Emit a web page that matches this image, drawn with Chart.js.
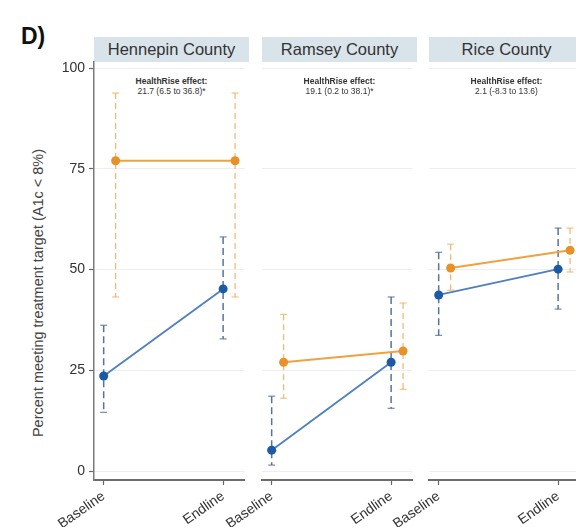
<!DOCTYPE html>
<html>
<head>
<meta charset="utf-8">
<script src="https://cdn.jsdelivr.net/npm/chart.js@4.4.1/dist/chart.umd.min.js"></script>
<style>
  html, body { margin: 0; padding: 0; background: #fff; }
  body { width: 576px; height: 527px; overflow: hidden; position: relative;
         font-family: "Liberation Sans", Arial, sans-serif; color: #333; }
  canvas { position: absolute; }
  .strip { position: absolute; top: 37px; height: 25px; background: #d9e3ea;
           font-size: 16.5px; line-height: 25px; text-align: center; color: #333; white-space: nowrap; }
  .effect { position: absolute; top: 76px; width: 155px; text-align: center;
            font-size: 8.5px; line-height: 10px; color: #333; white-space: nowrap; }
  .effect b { font-weight: bold; }
  #panelTag { position: absolute; left: 21px; top: 23px; font-size: 23px; font-weight: bold; color: #111; }
  #yTitle { position: absolute; left: 38px; top: 293px; transform: translate(-50%, -50%) rotate(-90deg);
            font-size: 14.5px; color: #444; white-space: nowrap; }
</style>
</head>
<body>
<div id="panelTag">D)</div>
<div id="yTitle">Percent meeting treatment target (A1c &lt; 8%)</div>
<script>
// Time points and county panels
const groups = ['Baseline', 'Endline'];
const counties = ['Hennepin County', 'Ramsey County', 'Rice County'];
const effectText = ['21.7 (6.5 to 36.8)*', '19.1 (0.2 to 38.1)*', '2.1 (-8.3 to 13.6)'];
const yTicks = [0, 25, 50, 75, 100];

// HealthRise sites (blue): mean and 95% CI per county, [baseline, endline]
const interventionMean = [[23.6, 45.2], [5.2, 27.0], [43.7, 50.1]];
const interventionLow  = [[14.6, 32.8], [1.5, 15.6], [33.7, 40.2]];
const interventionHigh = [[36.2, 58.1], [18.6, 43.2], [54.3, 60.3]];

// Comparison sites (orange): mean and 95% CI per county, [baseline, endline]
const comparisonMean = [[77.0, 77.0], [27.0, 29.8], [50.4, 54.8]];
const comparisonLow  = [[43.2, 43.2], [18.1, 20.3], [44.9, 49.4]];
const comparisonHigh = [[93.8, 93.8], [38.9, 41.7], [56.3, 60.3]];

// layout of the three panels (plot-area left edge, width)
const areaLeft = [94, 262, 429];
const areaWidth = 155;
const yAxisWidth = [94, 62, 62];
const canvasTop = 40, topPad = 22;            // plot area starts at y = 62
const canvasHeight = 527 - canvasTop, xAxisHeight = 47;
const dodge = 0.1; // comparison points are nudged right

const BLUE = '#1c5aa3', BLUE_LINE = '#4f80bd', BLUE_ERR = '#56739f';
const ORANGE = '#e8912b', ORANGE_LINE = '#efa240', ORANGE_ERR = '#f2b66c';

const errorBars = {
  id: 'errorBars',
  beforeDatasetsDraw(chart) {
    const { ctx, scales: { x, y } } = chart;
    chart.data.datasets.forEach(ds => {
      ds.data.forEach(p => {
        const px = x.getPixelForValue(p.x);
        const top = y.getPixelForValue(p.high);
        const bot = y.getPixelForValue(p.low);
        ctx.save();
        ctx.strokeStyle = ds.errColor;
        ctx.lineWidth = ds.errWidth;
        ctx.setLineDash(ds.errDash);
        ctx.beginPath();
        ctx.moveTo(px, top);
        ctx.lineTo(px, bot);
        ctx.stroke();
        ctx.setLineDash([]);
        ctx.lineWidth = 1;
        ctx.beginPath();
        ctx.moveTo(px - 3.5, top); ctx.lineTo(px + 3.5, top);
        ctx.moveTo(px - 3.5, bot); ctx.lineTo(px + 3.5, bot);
        ctx.stroke();
        ctx.restore();
      });
    });
  }
};

function series(mean, low, high, c, offset) {
  return groups.map((g, i) => ({ x: i + offset, y: mean[c][i], low: low[c][i], high: high[c][i] }));
}

counties.forEach((name, c) => {
  const strip = document.createElement('div');
  strip.className = 'strip';
  strip.style.left = areaLeft[c] + 'px';
  strip.style.width = areaWidth + 'px';
  strip.textContent = name;
  document.body.appendChild(strip);

  const eff = document.createElement('div');
  eff.className = 'effect';
  eff.style.left = areaLeft[c] + 'px';
  eff.innerHTML = '<b>HealthRise effect:</b><br>' + effectText[c];
  document.body.appendChild(eff);

  const canvas = document.createElement('canvas');
  const w = yAxisWidth[c] + areaWidth;
  canvas.width = w; canvas.height = canvasHeight;
  canvas.style.left = (areaLeft[c] - yAxisWidth[c]) + 'px';
  canvas.style.top = canvasTop + 'px';
  canvas.style.width = w + 'px'; canvas.style.height = canvasHeight + 'px';
  document.body.appendChild(canvas);

  const first = c === 0;
  new Chart(canvas, {
    type: 'line',
    data: {
      datasets: [
        {
          data: series(comparisonMean, comparisonLow, comparisonHigh, c, dodge),
          borderColor: ORANGE_LINE, borderWidth: 2,
          pointBackgroundColor: ORANGE, pointBorderColor: ORANGE, pointRadius: 4.5, pointBorderWidth: 0,
          errColor: ORANGE_ERR, errWidth: 1.2, errDash: [6, 4]
        },
        {
          data: series(interventionMean, interventionLow, interventionHigh, c, 0),
          borderColor: BLUE_LINE, borderWidth: 1.8,
          pointBackgroundColor: BLUE, pointBorderColor: BLUE, pointRadius: 4.5, pointBorderWidth: 0,
          errColor: BLUE_ERR, errWidth: 1.5, errDash: [7, 4]
        }
      ]
    },
    options: {
      responsive: false,
      animation: false,
      devicePixelRatio: 1,
      layout: { padding: { top: topPad, left: 0, right: 0, bottom: 0 } },
      plugins: { legend: { display: false }, tooltip: { enabled: false } },
      scales: {
        x: {
          type: 'linear',
          min: -0.081, max: 1.179,
          afterBuildTicks: s => { s.ticks = groups.map((g, i) => ({ value: i })); },
          afterFit: s => { s.height = xAxisHeight; },
          ticks: {
            callback: v => groups[Math.round(v)],
            minRotation: 35, maxRotation: 35, autoSkip: false,
            font: { family: '"Liberation Sans", Arial, sans-serif', size: 14 },
            color: '#333', padding: 3
          },
          grid: { drawOnChartArea: false, drawTicks: true, tickLength: 5, tickColor: '#666', tickWidth: 1.2 },
          border: { display: true, color: '#6b6b6b', width: 2 }
        },
        y: {
          min: -2.2, max: 101.5,
          afterBuildTicks: s => { s.ticks = yTicks.map(v => ({ value: v })); },
          afterFit: s => { s.width = yAxisWidth[c]; },
          ticks: {
            display: first,
            font: { family: '"Liberation Sans", Arial, sans-serif', size: 14 },
            color: '#333', padding: 4
          },
          grid: { color: '#eeeeee', lineWidth: 1, drawTicks: first, tickLength: 5, tickColor: '#666', tickWidth: 1.2 },
          border: { display: first, color: '#7a7a7a', width: 1.5 }
        }
      }
    },
    plugins: [errorBars]
  });
});
</script>
</body>
</html>
